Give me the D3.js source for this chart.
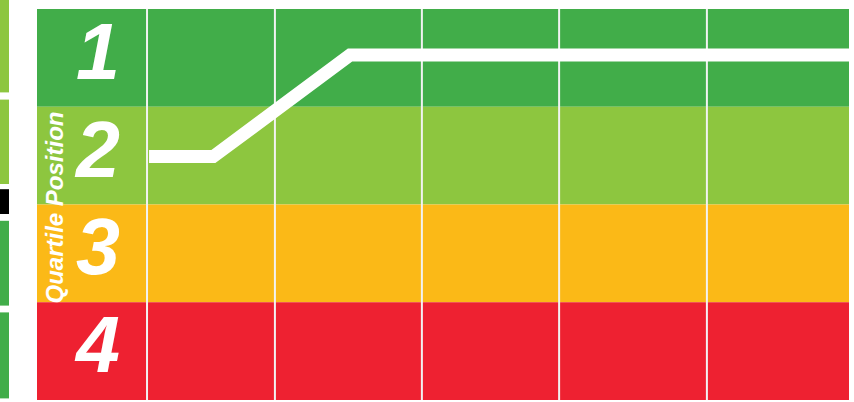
<!DOCTYPE html>
<html>
<head>
<meta charset="utf-8">
<script src="https://cdn.jsdelivr.net/npm/d3@7"></script>
<style>
  html, body { margin: 0; padding: 0; background: #fff; }
  svg { display: block; }
</style>
</head>
<body>
<svg id="chart" width="854" height="402"></svg>
<script>
// quartile bands, top to bottom
const quartiles = [1, 2, 3, 4];
const bandColors = ['#41ad49', '#8dc63f', '#fbb917', '#ee2131'];

// x in percent of the plot width
const gridTicks = [13.55, 29.3, 47.4, 64.3, 82.5];
const lineX = [13.8, 21.7, 38.55, 100];
const lineQ = [2.01, 2.01, 0.97, 0.97];

// cut-off neighbouring panel on the left, in percent of height
const stripStart = [0, 24.9, 47.3, 55.2, 78.1];
const stripEnd = [23.1, 46.0, 53.5, 76.4, 99.6];
const stripColors = ['#8dc63f', '#8dc63f', '#000000', '#41ad49', '#41ad49'];

const yAxisTitle = 'Quartile Position';

const svg = d3.select('#chart');
let margin = { top: 9, right: 5, bottom: 2, left: 37 };
let width = 854, height = 402;

let x = d3.scaleLinear()
  .domain([0, 100])
  .range([margin.left, width - margin.right]);

let y = d3.scaleLinear()
  .domain([0.5, 4.5])
  .range([margin.top, height - margin.bottom]);

let stripY = d3.scaleLinear().domain([0, 100]).range([0, height - margin.bottom]);

// left strip
svg.append('g').selectAll('rect')
  .data(stripStart)
  .join('rect')
  .attr('x', 0)
  .attr('width', 9)
  .attr('y', d => stripY(d))
  .attr('height', (d, i) => stripY(stripEnd[i]) - stripY(d))
  .attr('fill', (d, i) => stripColors[i]);

// bands
svg.append('g').selectAll('rect')
  .data(quartiles)
  .join('rect')
  .attr('x', x(0))
  .attr('width', x(100) - x(0))
  .attr('y', d => y(d - 0.5))
  .attr('height', d => y(d + 0.5) - y(d - 0.5))
  .attr('fill', (d, i) => bandColors[i]);

// vertical grid
svg.append('g').selectAll('line')
  .data(gridTicks)
  .join('line')
  .attr('x1', d => x(d))
  .attr('x2', d => x(d))
  .attr('y1', y(0.5))
  .attr('y2', y(4.5))
  .attr('stroke', '#f2f2f2')
  .attr('stroke-width', 2);

// quartile numbers
svg.append('g').selectAll('text')
  .data(quartiles)
  .join('text')
  .attr('x', 98)
  .attr('y', d => y(d))
  .attr('dy', 21)
  .attr('text-anchor', 'middle')
  .attr('font-family', 'Liberation Sans, Arial, sans-serif')
  .attr('font-weight', 'bold')
  .attr('font-style', 'italic')
  .attr('font-size', 79)
  .attr('fill', '#fff')
  .text(d => d);

// axis title
svg.append('text')
  .attr('transform', `translate(63,${y(2.5) + 3}) rotate(-90)`)
  .attr('text-anchor', 'middle')
  .attr('font-family', 'Liberation Sans, Arial, sans-serif')
  .attr('font-weight', 'bold')
  .attr('font-style', 'italic')
  .attr('font-size', 24)
  .attr('fill', '#fff')
  .text(yAxisTitle);

// rank line
let line = d3.line()
  .x((d, i) => x(lineX[i]))
  .y(d => y(d));

svg.append('path')
  .datum(lineQ)
  .attr('d', line)
  .attr('fill', 'none')
  .attr('stroke', '#fff')
  .attr('stroke-width', 13)
  .attr('stroke-linejoin', 'miter')
  .attr('stroke-linecap', 'butt');
</script>
</body>
</html>
